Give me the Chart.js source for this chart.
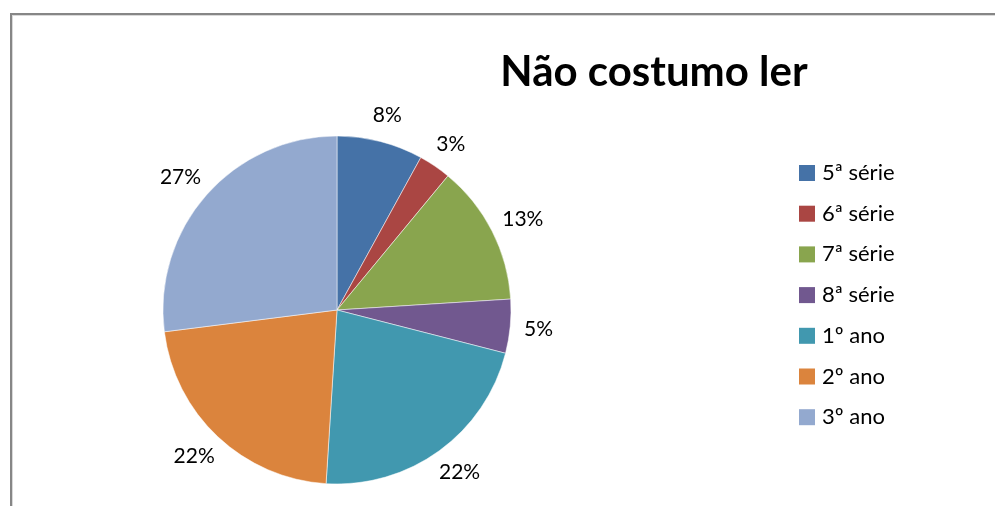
<!DOCTYPE html>
<html>
<head>
<meta charset="utf-8">
<script src="https://cdn.jsdelivr.net/npm/chart.js@4/dist/chart.umd.min.js"></script>
<style>
  html, body { margin: 0; padding: 0; background: #fff; }
  #wrap { position: relative; width: 995px; height: 506px; overflow: hidden; }
  #frame {
    position: absolute; left: 10px; top: 13px; width: 1000px; height: 520px;
    border-left: 2px solid #868686; border-top: 2px solid #868686;
    box-shadow: inset 1px 1px 0 #d9d9d9;
  }
  canvas { position: absolute; left: 0; top: 0; }
</style>
</head>
<body>
<div id="wrap">
  <div id="frame"></div>
  <canvas id="pieChart" width="995" height="506"></canvas>
</div>
<script>
const titleText = 'Não costumo ler';
const categories = ['5ª série', '6ª série', '7ª série', '8ª série', '1º ano', '2º ano', '3º ano'];
const percentages = [8, 3, 13, 5, 22, 22, 27];
const sliceColors = ['#4572A7', '#AA4643', '#89A54E', '#71588F', '#4198AF', '#DB843D', '#93A9CF'];

const FONT = 'Lato, "Open Sans", sans-serif';

// percent labels sitting just outside each slice
const outsideLabels = {
  id: 'outsideLabels',
  afterDatasetsDraw(chart) {
    const ctx = chart.ctx;
    const meta = chart.getDatasetMeta(0);
    ctx.save();
    ctx.font = '21px ' + FONT;
    ctx.fillStyle = '#000';
    ctx.textAlign = 'center';
    ctx.textBaseline = 'middle';
    meta.data.forEach((arc, i) => {
      const mid = (arc.startAngle + arc.endAngle) / 2;
      const w = ctx.measureText(percentages[i] + '%').width;
      const dx = Math.cos(mid), dy = Math.sin(mid);
      // push the text box outward from the rim
      const r = arc.outerRadius + 14;
      const x = arc.x + dx * r + dx * w / 2;
      const y = arc.y + dy * r + dy * 13;
      ctx.fillText(percentages[i] + '%', x, y);
    });
    ctx.restore();
  }
};

// title and legend on the right
const sidePanel = {
  id: 'sidePanel',
  afterDraw(chart) {
    const ctx = chart.ctx;
    ctx.save();
    ctx.font = 'bold 42px ' + FONT;
    ctx.fillStyle = '#000';
    ctx.textAlign = 'center';
    ctx.textBaseline = 'alphabetic';
    ctx.fillText(titleText, 654, 86);

    ctx.font = '22px ' + FONT;
    ctx.textAlign = 'left';
    ctx.textBaseline = 'middle';
    categories.forEach((name, i) => {
      const y = 173 + i * 40.7;
      ctx.fillStyle = sliceColors[i];
      ctx.fillRect(799, y - 8, 16, 16);
      ctx.fillStyle = '#000';
      ctx.fillText(name, 822, y);
    });
    ctx.restore();
  }
};

new Chart(document.getElementById('pieChart'), {
  type: 'pie',
  data: {
    labels: categories,
    datasets: [{
      data: percentages,
      backgroundColor: sliceColors,
      borderColor: 'rgba(255,255,255,0.5)',
      borderWidth: 1
    }]
  },
  options: {
    responsive: false,
    animation: false,
    radius: 174,
    layout: { padding: { left: 163, right: 484, top: 136, bottom: 22 } },
    plugins: {
      legend: { display: false },
      tooltip: { enabled: false }
    }
  },
  plugins: [outsideLabels, sidePanel]
});
</script>
</body>
</html>
